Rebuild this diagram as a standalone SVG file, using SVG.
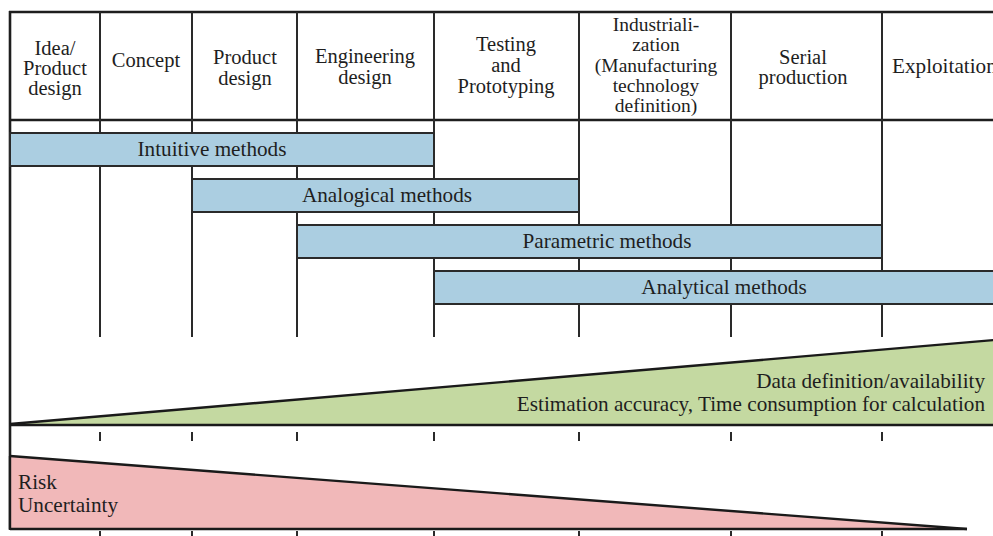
<svg xmlns="http://www.w3.org/2000/svg" width="993" height="536" viewBox="0 0 993 536" font-family="'Liberation Serif', 'Times New Roman', 'DejaVu Serif', serif">
<style>
  text { font-family: "Liberation Serif", "Times New Roman", "DejaVu Serif", serif; font-size: 20.5px; fill: #1e1e1e; }
  .c { text-anchor: middle; }
  .r { text-anchor: end; }
  .sm { font-size: 19.5px; }
  .lg { font-size: 21.2px; }
  .frame { stroke: #1e1e1e; stroke-width: 2.6; fill: none; }
  .col { stroke: #2a2a2a; stroke-width: 2; fill: none; }
  .tick { stroke: #2a2a2a; stroke-width: 2; }
  .bar { fill: #abcee1; stroke: #2a2a2a; stroke-width: 2; }
  .green { fill: #c4d9a1; stroke: none; }
  .red { fill: #f1b8b9; stroke: none; }
  .edge { stroke: #1a1a1a; stroke-width: 2.4; fill: none; }
</style>
<rect width="993" height="536" fill="#ffffff"/>

<g id="grid">
  <line class="frame" x1="9" y1="12" x2="993" y2="12"/>
  <line class="frame" x1="9" y1="120" x2="993" y2="120"/>
  <line class="frame" x1="10" y1="11" x2="10" y2="530"/>
  <g class="col">
    <line x1="100" y1="12" x2="100" y2="337"/>
    <line x1="192" y1="12" x2="192" y2="337"/>
    <line x1="297" y1="12" x2="297" y2="337"/>
    <line x1="434" y1="12" x2="434" y2="337"/>
    <line x1="579" y1="12" x2="579" y2="337"/>
    <line x1="731" y1="12" x2="731" y2="337"/>
    <line x1="882" y1="12" x2="882" y2="337"/>
  </g>
  <g class="tick">
    <line x1="100" y1="432" x2="100" y2="441"/>
    <line x1="192" y1="432" x2="192" y2="441"/>
    <line x1="297" y1="432" x2="297" y2="441"/>
    <line x1="434" y1="432" x2="434" y2="441"/>
    <line x1="579" y1="432" x2="579" y2="441"/>
    <line x1="731" y1="432" x2="731" y2="441"/>
    <line x1="882" y1="432" x2="882" y2="441"/>
    <line x1="100" y1="531" x2="100" y2="536"/>
    <line x1="192" y1="531" x2="192" y2="536"/>
    <line x1="297" y1="531" x2="297" y2="536"/>
    <line x1="434" y1="531" x2="434" y2="536"/>
    <line x1="579" y1="531" x2="579" y2="536"/>
    <line x1="731" y1="531" x2="731" y2="536"/>
    <line x1="882" y1="531" x2="882" y2="536"/>
  </g>
</g>

<g id="h-idea">
  <text class="c" x="55" y="55">Idea/</text>
  <text class="c" x="55" y="75">Product</text>
  <text class="c" x="55" y="95">design</text>
</g>
<g id="h-concept"><text class="c" x="146" y="67">Concept</text></g>
<g id="h-product">
  <text class="c" x="245" y="64">Product</text>
  <text class="c" x="245" y="85">design</text>
</g>
<g id="h-engineering">
  <text class="c" x="365" y="63">Engineering</text>
  <text class="c" x="365" y="84">design</text>
</g>
<g id="h-testing">
  <text class="c" x="506" y="51">Testing</text>
  <text class="c" x="506" y="72">and</text>
  <text class="c" x="506" y="93">Prototyping</text>
</g>
<g id="h-industrialization">
  <text class="c sm" x="656" y="31">Industriali-</text>
  <text class="c sm" x="656" y="51">zation</text>
  <text class="c sm" x="656" y="72">(Manufacturing</text>
  <text class="c sm" x="656" y="92">technology</text>
  <text class="c sm" x="656" y="112">definition)</text>
</g>
<g id="h-serial">
  <text class="c" x="803" y="64">Serial</text>
  <text class="c" x="803" y="84">production</text>
</g>
<g id="h-exploitation"><text class="lg" x="892" y="73">Exploitation</text></g>

<g id="intuitive">
  <rect class="bar" x="10" y="133" width="424" height="33"/>
  <text class="c lg" x="212" y="156">Intuitive methods</text>
</g>
<g id="analogical">
  <rect class="bar" x="192" y="179" width="387" height="33"/>
  <text class="c lg" x="387" y="202">Analogical methods</text>
</g>
<g id="parametric">
  <rect class="bar" x="297" y="225" width="585" height="33"/>
  <text class="c lg" x="607" y="248">Parametric methods</text>
</g>
<g id="analytical">
  <rect class="bar" x="434" y="271" width="580" height="33"/>
  <text class="c lg" x="724" y="294">Analytical methods</text>
</g>

<g id="data-wedge">
  <polygon class="green" points="10,424 995,340 995,424"/>
  <line class="edge" x1="10" y1="424" x2="995" y2="340"/>
  <line class="edge" x1="10" y1="425" x2="995" y2="425"/>
  <text class="r lg" x="985" y="388">Data definition/availability</text>
  <text class="r lg" x="985" y="411">Estimation accuracy, Time consumption for calculation</text>
</g>

<g id="risk-wedge">
  <polygon class="red" points="10,456 967,529 10,529"/>
  <line class="edge" x1="10" y1="456" x2="967" y2="529"/>
  <line class="edge" x1="10" y1="529" x2="967" y2="529"/>
  <line class="edge" x1="10" y1="456" x2="10" y2="529"/>
  <text class="lg" x="18" y="489">Risk</text>
  <text class="lg" x="18" y="512">Uncertainty</text>
</g>
</svg>
